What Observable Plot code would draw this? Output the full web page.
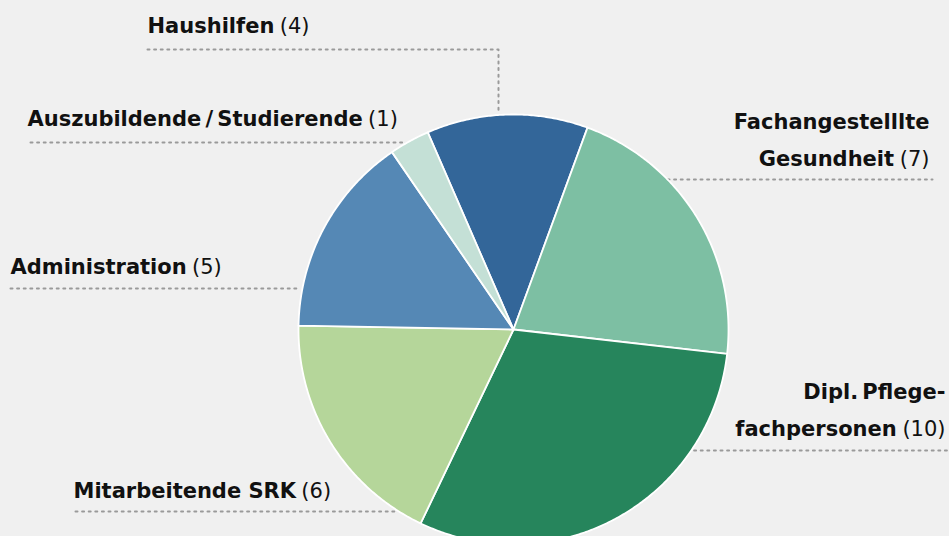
<!DOCTYPE html>
<html><head><meta charset="utf-8">
<script src="https://cdn.jsdelivr.net/npm/d3@7"></script>
<script src="https://cdn.jsdelivr.net/npm/@observablehq/plot@0.6"></script>
<style>html,body{margin:0;padding:0;background:#f0f0f0;overflow:hidden;}</style>
</head><body><div id="chart"></div>
<script>
// ---- data ----
const categories = ["Haushilfen", "Fachangestelllte Gesundheit", "Dipl. Pflegefachpersonen", "Mitarbeitende SRK", "Administration", "Auszubildende / Studierende"];
const values = [4, 7, 10, 6, 5, 1];
const labelLines = [["Haushilfen"], ["Fachangestelllte", "Gesundheit"], ["Dipl.\u2009Pflege-", "fachpersonen"], ["Mitarbeitende SRK"], ["Administration"], ["Auszubildende\u2009/\u2009Studierende"]];
const colors = ["#336699", "#7dbfa3", "#26855c", "#b5d69a", "#5588b5", "#c4e0d6"];

// ---- layout ----
const W = 949, H = 536;
const cx = 513, cy = 329, R = 215;
const startDeg = -23.5;
const FONT = "DejaVu Sans", FS = 21, LH = 37;
const labelLayout = [
  {anchor: "start", x: 147, y: 32, leader: [[147, 49], [498, 49], [498, 113]]},
  {anchor: "end", x: 929, y: 165, leader: [[667, 179], [932, 179]]},
  {anchor: "end", x: 945, y: 435, leader: [[687, 450], [949, 450]]},
  {anchor: "start", x: 73, y: 497, leader: [[75, 511], [394, 511]]},
  {anchor: "start", x: 10, y: 273, leader: [[10, 288], [298, 288]]},
  {anchor: "start", x: 27, y: 125, leader: [[30, 142], [402, 142]]}
];

// ---- pie geometry from values ----
const pie = d3.pie().sort(null).value(d => d.value)
  .startAngle(startDeg * Math.PI / 180).endAngle(startDeg * Math.PI / 180 + 2 * Math.PI);
const arcs = pie(categories.map((c, i) => ({name: c, value: values[i]})));
const slicePts = [];
arcs.forEach(a => {
  slicePts.push({name: a.data.name, x: cx, y: cy});
  const n = Math.max(2, Math.ceil((a.endAngle - a.startAngle) / (0.5 * Math.PI / 180)));
  for (let k = 0; k <= n; k++) {
    const t = a.startAngle + (a.endAngle - a.startAngle) * k / n;
    slicePts.push({name: a.data.name, x: cx + R * Math.sin(t), y: cy - R * Math.cos(t)});
  }
});

// ---- labels ----
const ctx = document.createElement("canvas").getContext("2d");
const mw = (s, bold) => { ctx.font = `${bold ? "bold " : ""}${FS}px "${FONT}"`; return ctx.measureText(s).width; };
const textRows = [];
const leaderPts = [];
categories.forEach((c, i) => {
  const L = labelLayout[i], lines = labelLines[i];
  lines.forEach((ln, j) => {
    const y = L.y - (lines.length - 1 - j) * LH;
    const last = j === lines.length - 1;
    const val = `(${values[i]})`;
    if (L.anchor === "start") {
      textRows.push({x: L.x, y, text: ln, bold: true, anchor: "start"});
      if (last) textRows.push({x: L.x + mw(ln + " ", true) - 2, y, text: val, bold: false, anchor: "start"});
    } else {
      if (last) {
        textRows.push({x: L.x, y, text: val, bold: false, anchor: "end"});
        textRows.push({x: L.x - mw(" " + val, false) + 1, y, text: ln, bold: true, anchor: "end"});
      } else textRows.push({x: L.x, y, text: ln, bold: true, anchor: "end"});
    }
  });
  L.leader.forEach(([x, y]) => leaderPts.push({name: c, x, y}));
});
const rowsOf = (bold, anchor) => textRows.filter(d => d.bold === bold && d.anchor === anchor);
const textMark = (bold, anchor) => Plot.text(rowsOf(bold, anchor), {
  x: "x", y: "y", text: "text", textAnchor: anchor, lineAnchor: "bottom",
  fontSize: FS, fontWeight: bold ? "bold" : "normal", fill: "#111"
});

const chart = Plot.plot({
  width: W, height: H,
  marginTop: 0, marginRight: 0, marginBottom: 0, marginLeft: 0,
  x: {domain: [0, W], range: [0, W], axis: null},
  y: {domain: [0, H], range: [0, H], axis: null},
  color: {domain: categories, range: colors},
  style: {background: "#f0f0f0", fontFamily: FONT, overflow: "hidden"},
  marks: [
    Plot.line(leaderPts, {x: "x", y: "y", z: "name", stroke: "#9a9a9a", strokeWidth: 2, strokeDasharray: "2 4.6", curve: "linear"}),
    Plot.line(slicePts, {x: "x", y: "y", z: "name", fill: "name", stroke: "white", strokeWidth: 1.8, strokeLinejoin: "round", curve: "linear-closed"}),
    textMark(true, "start"), textMark(false, "start"), textMark(true, "end"), textMark(false, "end")
  ]
});
document.getElementById("chart").appendChild(chart);
</script>
</body></html>
